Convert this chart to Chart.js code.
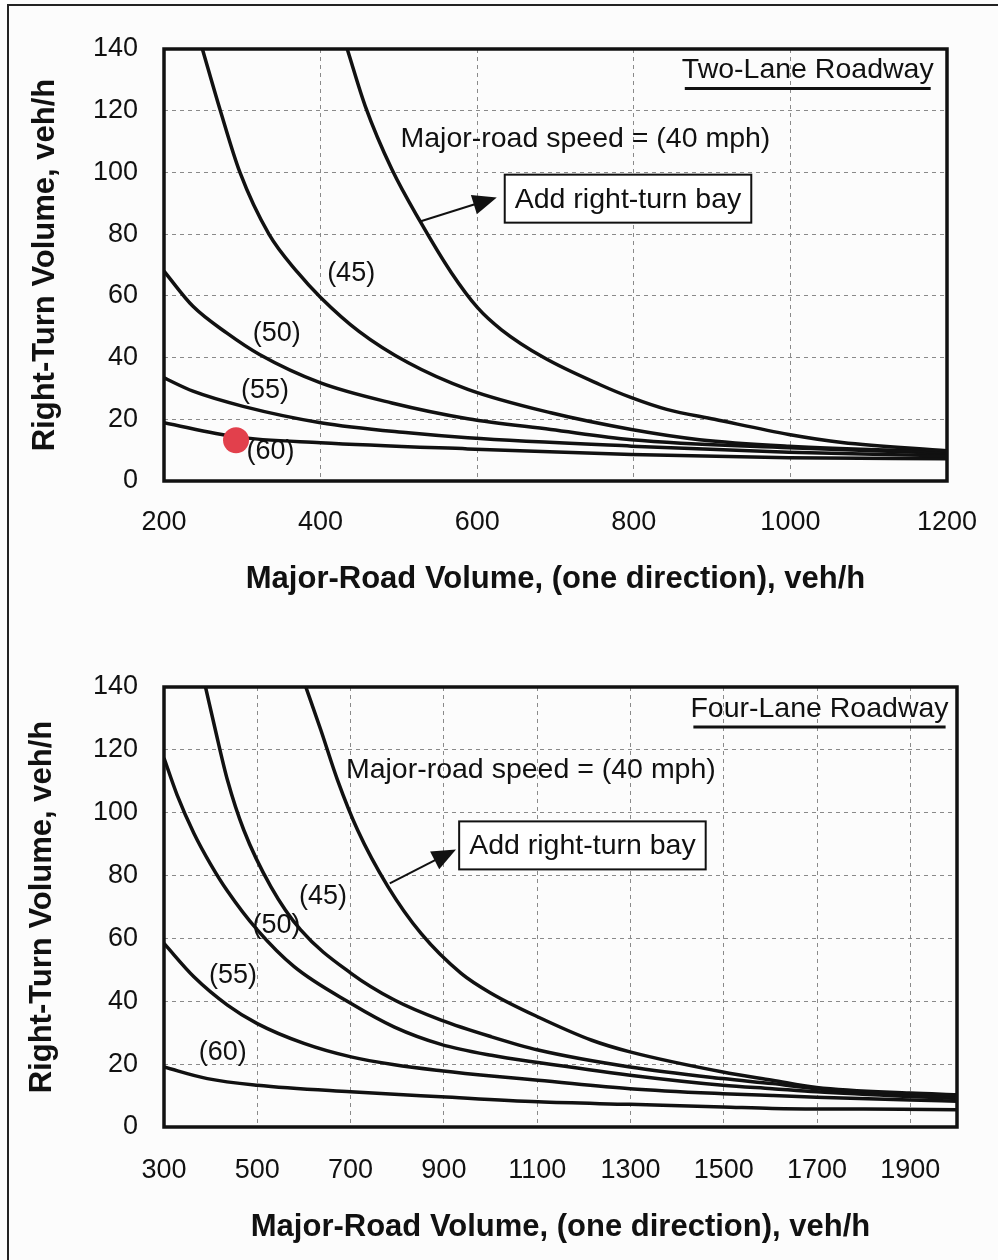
<!DOCTYPE html>
<html>
<head>
<meta charset="utf-8">
<title>Right-turn bay guidelines</title>
<script src="https://cdn.jsdelivr.net/npm/chart.js@4.4.1/dist/chart.umd.min.js"></script>
<style>
	html, body { margin: 0; padding: 0; background: #fcfcfc; }
	body { width: 998px; height: 1260px; position: relative; overflow: hidden; }
	.frame { position: absolute; left: 7px; top: 4px; width: 1200px; height: 1400px;
		border-left: 2px solid #222; border-top: 2px solid #222; }
	canvas { position: absolute; left: 0; }
	#two-lane { top: 0; }
	#four-lane { top: 640px; }
</style>
</head>
<body>
<div class="frame"></div>
<canvas id="two-lane" width="998" height="630"></canvas>
<canvas id="four-lane" width="998" height="620"></canvas>
<script>
const FONT = "'Liberation Sans', Arial, Helvetica, sans-serif";

// tick labels
const yTicks = [0, 20, 40, 60, 80, 100, 120, 140];
const twoLaneXTicks = [200, 400, 600, 800, 1000, 1200];
const fourLaneXTicks = [300, 500, 700, 900, 1100, 1300, 1500, 1700, 1900];

// Two-lane roadway curves (major-road volume -> right-turn volume)
const twoLaneX40 = [434, 457, 491, 527, 567, 601, 631, 685, 757, 797, 842, 903, 998, 1066, 1200];
const twoLaneY40 = [140, 121.5, 101, 84.2, 67.5, 56, 49, 40, 31.2, 27, 23.2, 20, 15.1, 12.5, 9.8];
const twoLaneX45 = [249, 272, 297, 334, 371, 400, 449, 512, 588, 694, 797, 884, 998, 1200];
const twoLaneY45 = [140, 120, 100, 80, 67.5, 59.5, 48.5, 38.3, 29.7, 22.1, 16.7, 13.4, 11.3, 9.4];
const twoLaneX50 = [200, 237, 280, 322, 400, 491, 588, 694, 797, 998, 1200];
const twoLaneY50 = [68, 56.6, 48, 41, 31.8, 25.3, 20.2, 16.7, 13.4, 10.8, 9.0];
const twoLaneX55 = [200, 237, 301, 400, 512, 588, 797, 998, 1200];
const twoLaneY55 = [33.4, 29.1, 24.2, 18.9, 15.6, 14, 11.3, 9.3, 8.2];
const twoLaneX60 = [200, 292, 400, 588, 797, 998, 1200];
const twoLaneY60 = [18.9, 14.3, 12.4, 10.4, 8.6, 7.5, 7.2];
const studyPointX = [292];
const studyPointY = [13.2];

// Four-lane roadway curves
const fourLaneX40 = [604, 636, 672, 715, 780, 851, 937, 1002, 1102, 1217, 1299, 1498, 1604, 1699, 1900, 2000];
const fourLaneY40 = [140, 126.4, 110.4, 94.5, 76.5, 61.6, 48.9, 42.5, 35, 27.6, 23.9, 17.5, 14.9, 12.6, 10.8, 10.3];
const fourLaneX45 = [389, 410, 436, 471, 529, 593, 701, 794, 894, 1002, 1102, 1299, 1498, 1604, 1699, 1900, 2000];
const fourLaneY45 = [140, 126.4, 110.4, 94.5, 76.5, 62.7, 48.9, 40.4, 34, 28.7, 24.5, 19.1, 15.4, 13.8, 12.2, 10.3, 9.7];
const fourLaneX50 = [300, 328, 364, 400, 436, 500, 579, 701, 794, 894, 1002, 1102, 1299, 1498, 1604, 1699, 1900, 2000];
const fourLaneY50 = [117.4, 105.7, 93.5, 83.6, 75.1, 62.7, 51, 39.3, 31.8, 26.3, 22.8, 20.5, 16.5, 13.3, 12.2, 11.2, 9.7, 9.1];
const fourLaneX55 = [300, 364, 436, 500, 600, 701, 794, 894, 1002, 1102, 1299, 1498, 1604, 1699, 1900, 2000];
const fourLaneY55 = [58.4, 47.8, 38.8, 32.9, 26.6, 22.3, 19.8, 17.9, 16.2, 14.9, 12.2, 10.6, 10.0, 9.5, 8.6, 8.2];
const fourLaneX60 = [300, 393, 500, 700, 894, 1102, 1299, 1498, 1604, 1800, 2000];
const fourLaneY60 = [19.1, 15.4, 13.3, 11.2, 9.6, 8.0, 7.2, 6.4, 5.9, 5.7, 5.5];

const pts = (xs, ys) => xs.map((x, i) => ({ x: x, y: ys[i] }));

function curve(label, xs, ys) {
	return {
		label: label,
		data: pts(xs, ys),
		borderColor: "#111",
		borderWidth: 3.5,
		pointRadius: 0,
		cubicInterpolationMode: "monotone",
		fill: false,
		order: 1
	};
}

// draws the frame round the plot and the notes, placed in data units
const roadNotes = {
	id: "roadNotes",
	afterDatasetsDraw(chart, args, opts) {
		const ctx = chart.ctx;
		const a = chart.chartArea;
		const px = v => chart.scales.x.getPixelForValue(v);
		const py = v => chart.scales.y.getPixelForValue(v);

		ctx.save();
		ctx.strokeStyle = "#111";
		ctx.lineWidth = 3.5;
		ctx.strokeRect(a.left, a.top, a.right - a.left, a.bottom - a.top);

		ctx.fillStyle = "#111";
		ctx.textBaseline = "middle";
		ctx.font = "28.5px " + FONT;

		// roadway name, underlined
		const t = opts.title;
		ctx.textAlign = "right";
		ctx.fillText(t.text, px(t.x), py(t.y));
		const tw = ctx.measureText(t.text).width;
		ctx.lineWidth = 3;
		ctx.beginPath();
		ctx.moveTo(px(t.x) - tw + 3, py(t.y) + 18);
		ctx.lineTo(px(t.x) - 3, py(t.y) + 18);
		ctx.stroke();

		// speed note
		ctx.textAlign = "left";
		ctx.fillText(opts.speed.text, px(opts.speed.x), py(opts.speed.y));

		// boxed note
		const b = opts.box;
		const bw = ctx.measureText(b.text).width + 20;
		const bh = 48;
		ctx.fillStyle = "#fff";
		ctx.fillRect(px(b.x) - bw / 2, py(b.y) - bh / 2, bw, bh);
		ctx.lineWidth = 2;
		ctx.strokeRect(px(b.x) - bw / 2, py(b.y) - bh / 2, bw, bh);
		ctx.fillStyle = "#111";
		ctx.textAlign = "center";
		ctx.fillText(b.text, px(b.x), py(b.y) + 1);

		// arrow to the box
		const ar = opts.arrow;
		const x1 = px(ar.x1), y1 = py(ar.y1), x2 = px(ar.x2), y2 = py(ar.y2);
		const c = Math.cos(Math.atan2(y2 - y1, x2 - x1));
		const s = Math.sin(Math.atan2(y2 - y1, x2 - x1));
		ctx.lineWidth = 2;
		ctx.beginPath();
		ctx.moveTo(x1, y1);
		ctx.lineTo(x2 - 18 * c, y2 - 18 * s);
		ctx.stroke();
		ctx.beginPath();
		ctx.moveTo(x2, y2);
		ctx.lineTo(x2 - 24 * c + 10 * s, y2 - 24 * s - 10 * c);
		ctx.lineTo(x2 - 24 * c - 10 * s, y2 - 24 * s + 10 * c);
		ctx.closePath();
		ctx.fill();

		// speed labels on the curves
		ctx.font = "27px " + FONT;
		ctx.textAlign = "center";
		opts.labels.forEach(l => ctx.fillText(l.text, px(l.x), py(l.y)));
		ctx.restore();
	}
};

function makeChart(id, g) {
	const axisTitle = { size: 31, weight: "bold", family: FONT };
	const tickFont = { size: 27, family: FONT };
	return new Chart(document.getElementById(id), {
		type: "line",
		data: { datasets: g.datasets },
		plugins: [roadNotes],
		options: {
			responsive: false,
			animation: false,
			events: [],
			layout: { padding: { top: g.top, right: g.right, left: 0, bottom: 0 } },
			plugins: {
				legend: { display: false },
				tooltip: { enabled: false },
				roadNotes: g.notes
			},
			scales: {
				x: {
					type: "linear",
					min: g.xMin,
					max: g.xMax,
					afterBuildTicks: axis => { axis.ticks = g.xTicks.map(v => ({ value: v })); },
					afterFit: axis => {
						axis.height = g.xHeight;
						axis.paddingLeft = 0;
						axis.paddingRight = 0;
					},
					grid: { color: "#8a8a8a", lineWidth: 1, drawTicks: false },
					border: { display: false, dash: [4, 4] },
					ticks: { color: "#111", font: tickFont, padding: g.xTickPad, maxRotation: 0,
						callback: v => String(v) },
					title: {
						display: true,
						text: "Major-Road Volume, (one direction), veh/h",
						color: "#111",
						font: axisTitle,
						padding: { top: 0, bottom: g.xTitlePad }
					}
				},
				y: {
					min: 0,
					max: 140,
					afterBuildTicks: axis => { axis.ticks = yTicks.map(v => ({ value: v })); },
					afterFit: axis => {
						axis.width = 164;
						axis.paddingTop = 0;
						axis.paddingBottom = 0;
					},
					grid: { color: "#8a8a8a", lineWidth: 1, drawTicks: false },
					border: { display: false, dash: [4, 4] },
					ticks: { color: "#111", font: tickFont, padding: 26, callback: v => String(v) },
					title: {
						display: true,
						text: "Right-Turn Volume, veh/h",
						color: "#111",
						font: axisTitle,
						padding: { top: g.yTitlePad, bottom: 0 }
					}
				}
			}
		}
	});
}

makeChart("two-lane", {
	top: 49, right: 51, xHeight: 149, xTickPad: 25, xTitlePad: 32, yTitlePad: 27,
	xMin: 200, xMax: 1200, xTicks: twoLaneXTicks,
	datasets: [
		{ label: "site", data: pts(studyPointX, studyPointY), showLine: false,
			pointRadius: 13, pointBackgroundColor: "#e2404c", pointBorderWidth: 0, order: 0 },
		curve("(40)", twoLaneX40, twoLaneY40),
		curve("(45)", twoLaneX45, twoLaneY45),
		curve("(50)", twoLaneX50, twoLaneY50),
		curve("(55)", twoLaneX55, twoLaneY55),
		curve("(60)", twoLaneX60, twoLaneY60)
	],
	notes: {
		title: { text: "Two-Lane Roadway", x: 1183, y: 133 },
		speed: { text: "Major-road speed = (40 mph)", x: 502, y: 110.7 },
		box: { text: "Add right-turn bay", x: 792.6, y: 91.5 },
		arrow: { x1: 528, y1: 84.2, x2: 625, y2: 91.9 },
		labels: [
			{ text: "(45)", x: 439, y: 67.2 },
			{ text: "(50)", x: 344, y: 47.8 },
			{ text: "(55)", x: 329, y: 29.2 },
			{ text: "(60)", x: 336, y: 9.7 }
		]
	}
});

makeChart("four-lane", {
	top: 47, right: 41, xHeight: 133, xTickPad: 27, xTitlePad: 14, yTitlePad: 24,
	xMin: 300, xMax: 2000, xTicks: fourLaneXTicks,
	datasets: [
		curve("(40)", fourLaneX40, fourLaneY40),
		curve("(45)", fourLaneX45, fourLaneY45),
		curve("(50)", fourLaneX50, fourLaneY50),
		curve("(55)", fourLaneX55, fourLaneY55),
		curve("(60)", fourLaneX60, fourLaneY60)
	],
	notes: {
		title: { text: "Four-Lane Roadway", x: 1982, y: 133 },
		speed: { text: "Major-road speed = (40 mph)", x: 690, y: 113.6 },
		box: { text: "Add right-turn bay", x: 1197, y: 89.6 },
		arrow: { x1: 784, y1: 77.5, x2: 926, y2: 88.3 },
		labels: [
			{ text: "(45)", x: 641, y: 73.3 },
			{ text: "(50)", x: 541, y: 64 },
			{ text: "(55)", x: 448, y: 48.3 },
			{ text: "(60)", x: 426, y: 23.6 }
		]
	}
});
</script>
</body>
</html>
